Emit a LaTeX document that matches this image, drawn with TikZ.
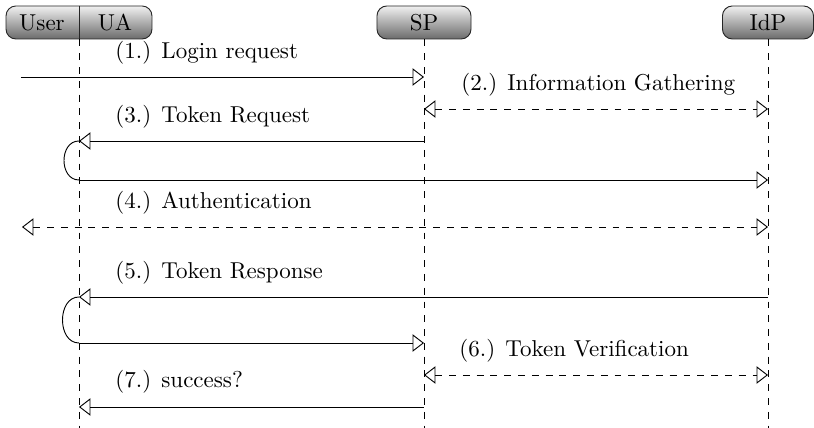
\documentclass[tikz,border=0pt]{standalone}
\usetikzlibrary{arrows.meta}
\begin{document}
\begin{tikzpicture}[x=0.435pt,y=-0.435pt,
  actor/.style={draw=black!85, rounded corners=4.3pt, top color=black!6, bottom color=black!58, minimum height=14.36pt, inner sep=0pt},
  life/.style={dashed, line width=0.4pt},
  tip/.tip={Triangle[open,length=5pt,width=7.6pt]},
  msg/.style={-tip, line width=0.4pt},
  dmsg/.style={tip-tip, dashed, line width=0.4pt},
  lbl/.style={anchor=base west, inner sep=0pt},
  loop/.style={line width=0.4pt}]
\useasboundingbox (0,0) rectangle (814,428);
% actors
\node[actor, minimum width=63.5pt] (userua) at (79,22.5) {};
\draw[black!85] (userua.north) -- (userua.south);
\node (user) at (42,22.5) {User};
\node (ua) at (115,22.5) {UA};
\node[actor, minimum width=40.9pt] (sp) at (424,22.5) {SP};
\node[actor, minimum width=39.6pt] (idp) at (768,22.5) {IdP};
% lifelines
\coordinate (uaend) at (79,428);
\coordinate (spend) at (424,428);
\coordinate (idpend) at (768,428);
\draw[life] (userua.south) -- (uaend);
\draw[life] (sp.south) -- (spend);
\draw[life] (idp.south) -- (idpend);
% (1)
\coordinate (m1a) at (21,77);
\coordinate (m1b) at (424,77);
\draw[msg] (m1a) -- (m1b);
\node[lbl] (l1) at (115,59) {(1.) Login request};
% (2)
\coordinate (m2a) at (424,109);
\coordinate (m2b) at (768,109);
\draw[dmsg] (m2a) -- (m2b);
\node[lbl] (l2) at (461,91) {(2.) Information Gathering};
% (3)
\coordinate (m3a) at (424,141);
\coordinate (m3b) at (79,141);
\coordinate (m3c) at (79,180);
\coordinate (m3d) at (768,180);
\draw[msg] (m3a) -- (m3b);
\draw[loop] (m3b) .. controls (59,141) and (59,180) .. (m3c);
\draw[msg] (m3c) -- (m3d);
\node[lbl] (l3) at (115,123) {(3.) Token Request};
% (4)
\coordinate (m4a) at (22,227);
\coordinate (m4b) at (768,227);
\draw[dmsg] (m4a) -- (m4b);
\node[lbl] (l4) at (115,209) {(4.) Authentication};
% (5)
\coordinate (m5a) at (768,297);
\coordinate (m5b) at (79,297);
\coordinate (m5c) at (79,343);
\coordinate (m5d) at (424,343);
\draw[msg] (m5a) -- (m5b);
\draw[loop] (m5b) .. controls (57,297) and (57,343) .. (m5c);
\draw[msg] (m5c) -- (m5d);
\node[lbl] (l5) at (115,279) {(5.) Token Response};
% (6)
\coordinate (m6a) at (424,375);
\coordinate (m6b) at (768,375);
\draw[dmsg] (m6a) -- (m6b);
\node[lbl] (l6) at (459,357) {(6.) Token Verification};
% (7)
\coordinate (m7a) at (424,407);
\coordinate (m7b) at (79,407);
\draw[msg] (m7a) -- (m7b);
\node[lbl] (l7) at (115,388) {(7.) success?};
\end{tikzpicture}
\end{document}
